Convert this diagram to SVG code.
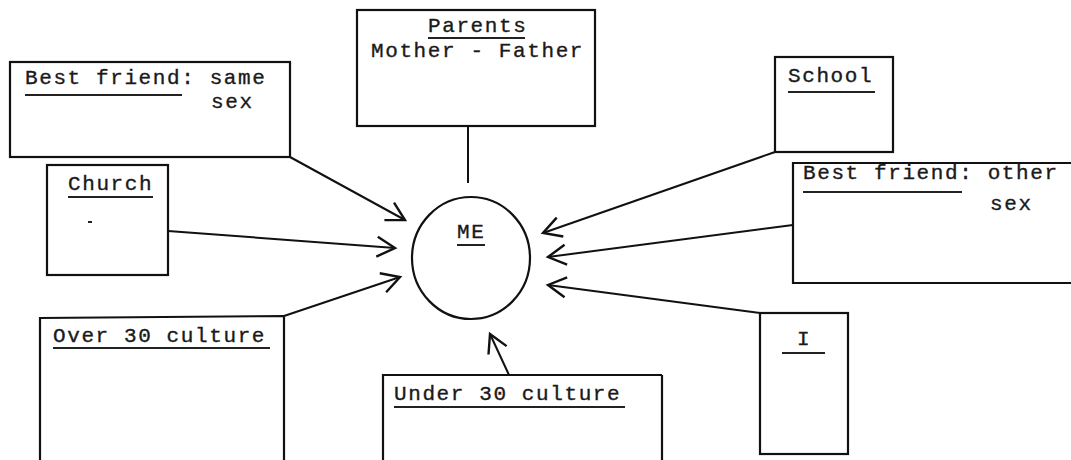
<svg xmlns="http://www.w3.org/2000/svg" width="1071" height="460" viewBox="0 0 1071 460">
<style>
.box{fill:none;stroke:#111;stroke-width:2.2}
.ul{stroke:#222;stroke-width:2}
.t{font-family:"Liberation Mono","Courier New",monospace;font-size:21px;letter-spacing:1.6px;fill:#1a1a1a;stroke:#1a1a1a;stroke-width:0.35}
.con{fill:none;stroke:#111;stroke-width:2;marker-end:url(#arr)}
.plain{fill:none;stroke:#111;stroke-width:2}
</style>
<defs>
<marker id="arr" markerUnits="userSpaceOnUse" markerWidth="26" markerHeight="26" refX="20" refY="11" orient="auto" viewBox="0 0 26 22">
<path d="M2,1 L20,11 L2,21" fill="none" stroke="#111" stroke-width="2.4"/>
</marker>
</defs>
<rect width="1071" height="460" fill="#fff"/>

<g id="connectors">
<line class="plain" x1="468" y1="126" x2="468" y2="183"/>
<line class="con" x1="290" y1="157" x2="405" y2="220"/>
<line class="con" x1="168" y1="231" x2="395" y2="248"/>
<line class="con" x1="284" y1="316" x2="400" y2="277"/>
<line class="con" x1="509" y1="375" x2="490" y2="334"/>
<line class="con" x1="775" y1="152" x2="543" y2="233"/>
<line class="con" x1="793" y1="225" x2="548" y2="257"/>
<line class="con" x1="760" y1="313" x2="548" y2="285"/>
</g>

<g id="me">
<ellipse class="box" cx="471" cy="258" rx="59" ry="61"/>
<text class="t" x="457" y="238">ME</text>
<line class="ul" x1="457" y1="245" x2="485" y2="245"/>
</g>

<g id="parents">
<rect class="box" x="357" y="10" width="238" height="116"/>
<text class="t" x="428" y="32">Parents</text>
<line class="ul" x1="428" y1="38" x2="525" y2="38"/>
<text class="t" x="371" y="57">Mother - Father</text>
</g>

<g id="bestfriend-same">
<rect class="box" x="10" y="62" width="280" height="95"/>
<text class="t" x="25" y="84">Best friend: same</text>
<line class="ul" x1="25" y1="95" x2="182" y2="95"/>
<text class="t" x="211" y="108">sex</text>
</g>

<g id="church">
<rect class="box" x="47" y="165" width="121" height="110"/>
<text class="t" x="68" y="190">Church</text>
<line class="ul" x1="68" y1="197" x2="153" y2="197"/>
<line class="ul" x1="88" y1="222" x2="92" y2="222"/>
</g>

<g id="over30">
<path class="box" d="M40,470 L40,318 L284,316 L284,470"/>
<text class="t" x="53" y="342">Over 30 culture</text>
<line class="ul" x1="53" y1="348" x2="270" y2="348"/>
</g>

<g id="under30">
<path class="box" d="M383,470 L383,375 L662,375"/>
<line class="box" x1="662" y1="375" x2="662" y2="470"/>
<text class="t" x="394" y="400">Under 30 culture</text>
<line class="ul" x1="394" y1="407" x2="625" y2="407"/>
</g>

<g id="school">
<rect class="box" x="775" y="57" width="118" height="95"/>
<text class="t" x="788" y="82">School</text>
<line class="ul" x1="788" y1="92" x2="875" y2="92"/>
</g>

<g id="bestfriend-other">
<path class="box" d="M1080,163 L793,163 L793,283 L1080,283"/>
<text class="t" x="803" y="179">Best friend: other</text>
<line class="ul" x1="803" y1="192" x2="962" y2="192"/>
<text class="t" x="990" y="210">sex</text>
</g>

<g id="i">
<rect class="box" x="760" y="313" width="88" height="141"/>
<text class="t" x="797" y="345">I</text>
<line class="ul" x1="782" y1="353" x2="825" y2="353"/>
</g>
</svg>
